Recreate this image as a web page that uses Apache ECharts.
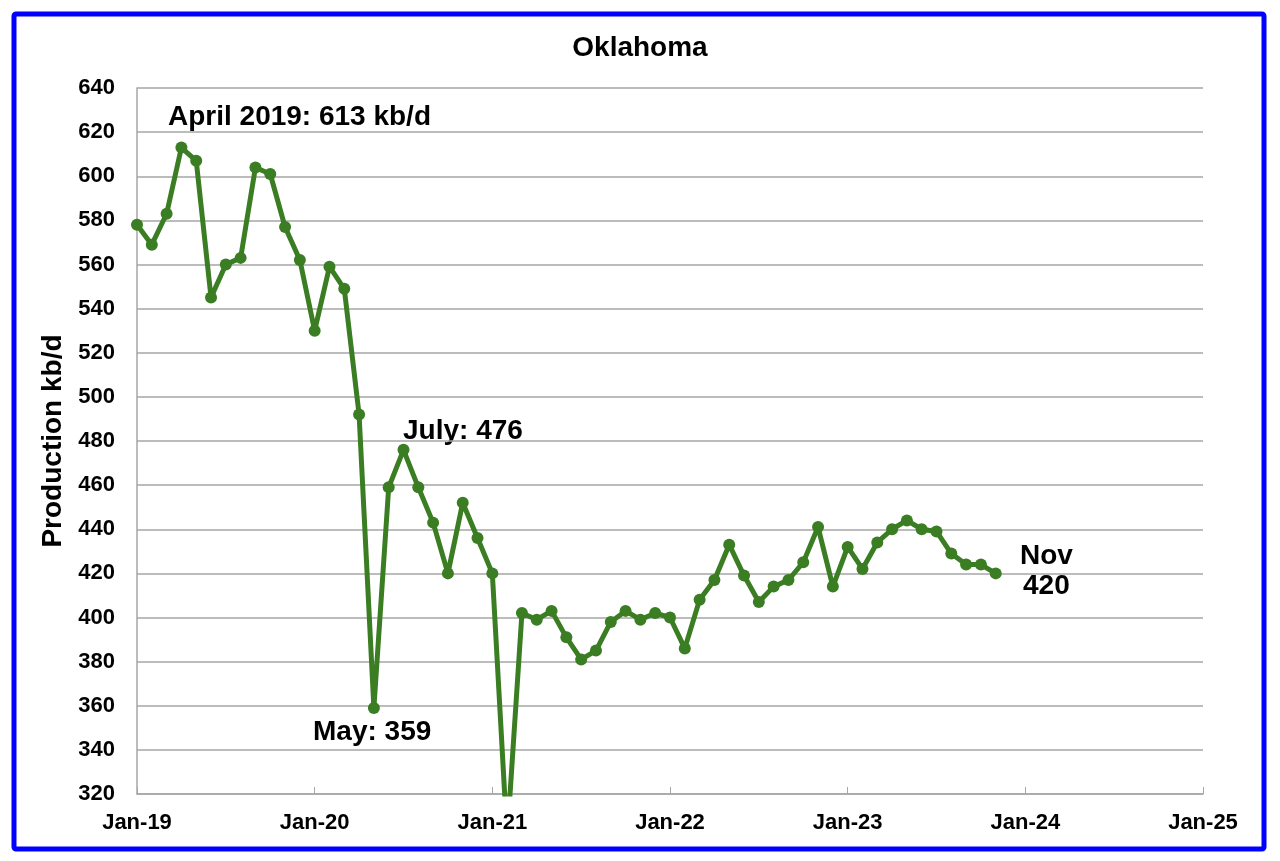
<!DOCTYPE html>
<html>
<head>
<meta charset="utf-8">
<script src="https://cdn.jsdelivr.net/npm/echarts@6/dist/echarts.min.js"></script>
<style>
html,body{margin:0;padding:0;background:#fff;}
#chart{width:1280px;height:861px;}
</style>
</head>
<body>
<div id="chart"></div>
<script>
// ---- Data ----
const months = [
  '2019-01','2019-02','2019-03','2019-04','2019-05','2019-06','2019-07','2019-08','2019-09','2019-10','2019-11','2019-12',
  '2020-01','2020-02','2020-03','2020-04','2020-05','2020-06','2020-07','2020-08','2020-09','2020-10','2020-11','2020-12',
  '2021-01','2021-02','2021-03','2021-04','2021-05','2021-06','2021-07','2021-08','2021-09','2021-10','2021-11','2021-12',
  '2022-01','2022-02','2022-03','2022-04','2022-05','2022-06','2022-07','2022-08','2022-09','2022-10','2022-11','2022-12',
  '2023-01','2023-02','2023-03','2023-04','2023-05','2023-06','2023-07','2023-08','2023-09','2023-10','2023-11'
];
const production = [
  578, 569, 583, 613, 607, 545, 560, 563, 604, 601, 577, 562,
  530, 559, 549, 492, 359, 459, 476, 459, 443, 420, 452, 436,
  420, 300, 402, 399, 403, 391, 381, 385, 398, 403, 399, 402,
  400, 386, 408, 417, 433, 419, 407, 414, 417, 425, 441, 414,
  432, 422, 434, 440, 444, 440, 439, 429, 424, 424, 420
];
const xTickLabels = ['Jan-19','Jan-20','Jan-21','Jan-22','Jan-23','Jan-24','Jan-25'];
const title = 'Oklahoma';
const yTitle = 'Production kb/d';

// month index from Jan 2019
function monthIndex(s){ const p = s.split('-'); return (parseInt(p[0]) - 2019) * 12 + (parseInt(p[1]) - 1); }
const seriesData = months.map((m, i) => [monthIndex(m), production[i]]);

const chart = echarts.init(document.getElementById('chart'), null, {renderer: 'canvas'});
const FONT = 'Arial, "Liberation Sans", sans-serif';
const green = '#3a7d22';

chart.setOption({
  animation: false,
  backgroundColor: '#ffffff',
  title: {
    text: title, left: 'center', top: 29,
    textStyle: {fontFamily: FONT, fontWeight: 'bold', fontSize: 28, color: '#000'}
  },
  grid: {left: 137, right: 77, top: 88, bottom: 67, containLabel: false},
  xAxis: {
    type: 'value', min: 0, max: 72, interval: 12,
    axisLine: {show: true, lineStyle: {color: '#a6a6a6', width: 1.5}},
    axisTick: {show: true, inside: true, length: 7, lineStyle: {color: '#a6a6a6', width: 1}},
    splitLine: {show: false},
    axisLabel: {
      margin: 18, color: '#000', fontFamily: FONT, fontWeight: 'bold', fontSize: 22,
      formatter: function(v){ return xTickLabels[Math.round(v / 12)] || ''; }
    }
  },
  yAxis: {
    type: 'value', min: 320, max: 640, interval: 20,
    name: yTitle, nameLocation: 'middle', nameGap: 63, nameRotate: 90,
    nameTextStyle: {fontFamily: FONT, fontWeight: 'bold', fontSize: 28, color: '#000'},
    axisLine: {show: true, lineStyle: {color: '#a6a6a6', width: 1.5}},
    axisTick: {show: false},
    splitLine: {show: true, lineStyle: {color: '#a6a6a6', width: 1.5}},
    axisLabel: {margin: 22, color: '#000', fontFamily: FONT, fontWeight: 'bold', fontSize: 22}
  },
  series: [{
    type: 'line',
    data: seriesData,
    clip: true,
    symbol: 'circle', symbolSize: 12,
    lineStyle: {color: green, width: 5},
    itemStyle: {color: green},
    z: 3
  }],
  graphic: [
    {type: 'rect', shape: {x: 14, y: 14, width: 1250, height: 835, r: 2},
     style: {fill: 'none', stroke: '#0000ff', lineWidth: 5}, z: 10},
    {type: 'text', left: 168, top: 103, style: {text: 'April 2019: 613 kb/d', fill: '#000', font: 'bold 28px ' + FONT}},
    {type: 'text', left: 403, top: 417, style: {text: 'July: 476', fill: '#000', font: 'bold 28px ' + FONT}},
    {type: 'text', left: 313, top: 718, style: {text: 'May: 359', fill: '#000', font: 'bold 28px ' + FONT}},
    {type: 'text', left: 1020, top: 542, style: {text: 'Nov', fill: '#000', font: 'bold 28px ' + FONT}},
    {type: 'text', left: 1023, top: 572, style: {text: '420', fill: '#000', font: 'bold 28px ' + FONT}}
  ]
});
</script>
</body>
</html>
